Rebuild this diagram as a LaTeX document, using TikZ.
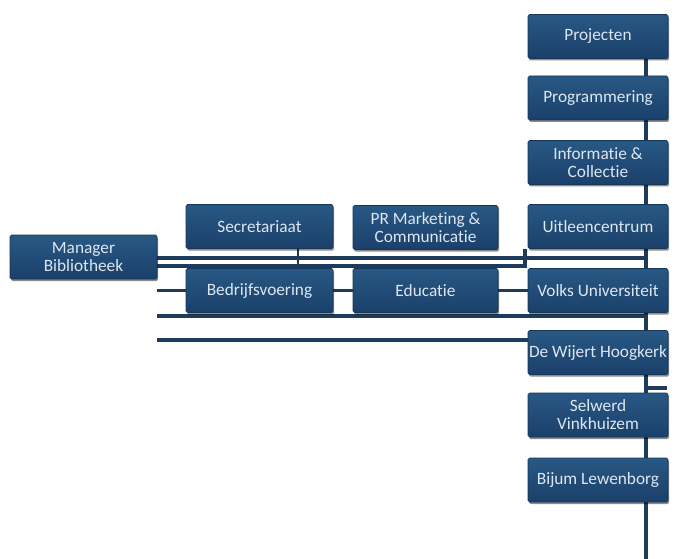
\documentclass[tikz,border=0pt]{standalone}
\usepackage{fontspec}
\setmainfont[Ligatures=NoCommon]{Carlito}
\usetikzlibrary{shadows,backgrounds}
\definecolor{boxtop}{HTML}{295884}
\definecolor{boxbot}{HTML}{1A406A}
\definecolor{boxedge}{HTML}{16365A}
\definecolor{boxtext}{HTML}{DDE6F0}
\definecolor{linecol}{HTML}{1D3C5C}
\begin{document}
\begin{tikzpicture}[x=1pt,y=-1pt,
  box/.style={rectangle, rounded corners=1.5pt, draw=boxedge, line width=0.6pt,
    top color=boxtop, bottom color=boxbot, text=boxtext,
    minimum width=147pt, minimum height=44pt, inner sep=1pt, align=center,
    font=\fontsize{17.3}{18}\selectfont,
    drop shadow={shadow xshift=1.2pt, shadow yshift=-2pt, opacity=0.45, fill=black}},
  midbox/.style={box, minimum width=145pt},
  colbox/.style={box, minimum width=140pt},
  conn/.style={draw=linecol, line width=3.2pt},
  thickconn/.style={draw=linecol, line width=4pt},
  thinconn/.style={draw=linecol, line width=2.4pt}]
\useasboundingbox (0,0) rectangle (675,559);

% boxes
\node[box] (mgr) at (83.5,257) {Manager\\Bibliotheek};
\node[box] (sec) at (259.5,226.5) {Secretariaat};
\node[midbox] (pr) at (425.5,227.5) {PR Marketing \&\\Communicatie};
\node[box] (bed) at (259.5,290.5) {Bedrijfsvoering};
\node[midbox] (edu) at (425.5,290.5) {Educatie};

\node[colbox] (proj) at (598,36.5) {Projecten};
\node[colbox] (prog) at (598,98) {Programmering};
\node[colbox] (info) at (598,162.5) {Informatie \&\\Collectie};
\node[colbox] (uit) at (598,226.5) {Uitleencentrum};
\node[colbox] (volks) at (598,290.5) {Volks Universiteit};
\node[colbox] (wij) at (598,352.5) {De Wijert Hoogkerk};
\node[colbox] (sel) at (598,415) {Selwerd\\Vinkhuizem};
\node[colbox] (bij) at (598,480) {Bijum Lewenborg};

% junction coordinates
\coordinate (tTop) at (646,58);
\coordinate (tBot) at (646,559);
\coordinate (jA) at (646,258);
\coordinate (jB) at (525,266);
\coordinate (sx) at (298,0);
\coordinate (jD) at (646,316);
\coordinate (jE) at (528,340);
\coordinate (jS) at (646,388);
\coordinate (jS2) at (667,388);

\begin{pgfonlayer}{background}
  \draw[conn] (tTop) -- (tBot);
  \draw[thickconn] (mgr.east |- jA) -- (jA);
  \draw[conn] (mgr.east |- jB) -- (jB) -- (jB |- uit.south);
  \draw[thinconn] (sec.south -| sx) -- (bed.north -| sx);
  \draw[conn] (mgr.east |- volks.west) -- (volks.west);
  \draw[conn] (mgr.east |- jD) -- (jD);
  \draw[conn] (mgr.east |- jE) -- (jE);
  \draw[conn] (jS) -- (jS2);
\end{pgfonlayer}
\end{tikzpicture}
\end{document}
